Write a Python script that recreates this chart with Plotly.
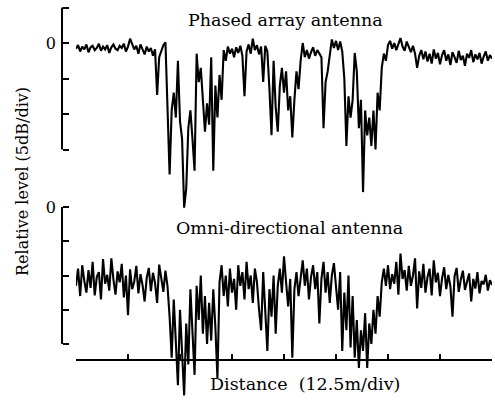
import plotly.graph_objects as go

# ---- data (relative level in dB, sampled every 0.5 m over 100 m) ----
step_m = 0.5

phased_db = (
    [-0.8, -0.3, -1.2, -0.5, -0.9, -0.2, -1.3, -0.6, -0.4, -1.0,
     -0.7, -0.1, -1.1, -0.5, -0.9, -0.3, -1.4, -0.6, -0.2, -0.8,
     -1.0, -0.4, -0.7, -0.1, -1.2, -0.5, 0.6, -0.3, -0.9, -0.4,
     -1.5, -0.2, -0.8, -1.6, -0.5, -1.2, -0.7]
    + [-1.8, -0.9, -7.3, -2.0, -1.0, -0.3, 0.1, -8.0, -18.5, -9.5,
       -7.0, -10.5, -2.5, -11.0, -13.5, -23.2, -20.5, -12.0, -9.5, -13.5,
       -18.0, -1.5, -5.5, -3.5, -8.0, -12.5, -8.5, -11.5, -2.0, -18.0,
       -6.0, -10.5, -4.5, -8.0, -1.0, -2.5, -0.5, -1.5, -0.8, -2.0,
       -0.6, -1.4, -0.4, -1.8, -7.5, -1.2, -0.2, -1.5, 0.6, -1.0,
       -0.3, -1.6, -0.5, -5.5, -0.4, -1.2, -6.5, -13.0, -2.5, -9.0,
       -12.5, -6.0, -3.5, -7.0, -4.0, -9.5, -7.5, -13.3, -8.0, -4.0,
       -6.5, -2.5, 0.0, -2.0, -1.0, -2.2, -1.3, -0.6, -1.8, -1.0,
       -1.5, -2.0, -12.0, -5.5, -4.0, -1.5, 0.5, -0.7, 0.3, -1.0,
       0.2, -1.2, -5.0, -14.5, -7.5, -10.5, -8.0, -1.4, -4.0, -12.0,
       -8.0, -21.0, -9.5, -13.0, -10.5, -14.5, -9.5, -15.0, -7.0, -9.5,
       -3.5, -1.5, -2.5, -0.3, 0.3, -0.8, 0.0, -1.0, -0.2, 0.7,
       -0.5, -1.1, 0.2, -0.6, -1.3, -0.4, -1.5, -3.5, -1.8, -1.0,
       -2.3]
    + [-1.2, -2.6, -1.5, -2.9, -0.9, -2.2, -1.4, -3.0, -1.7, -1.0,
       -2.5, -1.6, -3.1, -1.3, -2.0, -2.8, -1.1, -2.4, -1.8, -3.2,
       -1.5, -2.1, -1.0, -2.7, -1.6, -2.3, -1.4, -2.9, -1.9, -1.2,
       -2.5, -1.7, -2.2]
)

omni_db = (
    [-11.5, -9.0, -13.0, -8.5, -10.8, -12.5, -9.2, -11.8, -8.0, -12.9,
     -10.2, -9.5, -13.5, -7.6, -11.2, -9.9, -12.2, -7.5, -10.6, -12.8,
     -9.4, -11.0, -8.3, -13.2, -10.0, -15.8, -9.1, -12.0, -10.9, -8.6,
     -12.6, -9.8, -11.4, -13.8, -10.3, -8.9, -12.3, -9.6, -11.1, -14.0,
     -8.4, -10.7, -12.4, -9.3, -11.6]
    + [-16.0, -22.0, -13.5, -19.5, -26.0, -15.0, -21.5, -27.5, -17.0, -23.0,
       -12.0, -19.0, -24.5, -11.5, -16.5, -10.0, -18.5, -13.0, -20.0, -14.0,
       -19.5, -12.0, -17.5, -25.0, -11.0, -8.5, -13.0, -10.0, -14.5, -9.0,
       -12.5, -10.5, -15.0, -8.5, -11.5, -9.5, -13.5, -8.0, -12.0, -10.0,
       -14.0, -9.0, -11.0, -15.0, -18.0, -9.5, -14.5, -21.0, -12.0, -16.0,
       -10.0, -18.5, -11.5, -9.0, -12.5, -7.2, -11.0, -14.5, -10.5, -22.0,
       -12.0, -9.5, -13.0, -10.0, -7.8, -11.5, -9.0, -13.5, -10.2, -8.5,
       -12.0, -9.5, -17.0, -10.5, -8.0, -12.5, -9.5, -14.0, -10.0, -8.2,
       -12.0, -15.0, -9.5, -21.0, -12.5, -18.0, -10.0, -20.5, -13.0, -22.0,
       -16.5, -23.5, -18.0, -21.0, -15.5, -23.5, -17.0, -20.0, -15.0, -18.5,
       -13.0, -16.0, -11.0, -9.0, -11.5]
    + [-8.5, -12.0, -9.8, -11.2, -8.0, -12.8, -6.8, -10.5, -9.2, -12.2,
       -8.6, -11.5, -10.0, -7.5, -14.8, -9.4, -11.8, -8.3, -12.5, -10.2,
       -9.0, -12.9, -7.8, -11.0, -9.6, -13.0, -10.4, -8.8, -12.0, -9.9,
       -11.6, -16.0, -10.1, -8.9, -12.4, -10.6, -9.3, -12.1, -11.0, -9.7,
       -13.8, -10.5, -11.9, -9.5, -12.6, -10.8, -11.3, -9.9, -12.2, -10.7,
       -11.4]
)

phased_dist = [i * step_m for i in range(len(phased_db))]
omni_dist = [i * step_m for i in range(len(omni_db))]

x_ticks = [0, 12.5, 25, 37.5, 50, 62.5, 75, 87.5, 100]
top_ticks = [5, 0, -5, -10, -15]
top_labels = ["", "0", "", "", ""]
bot_ticks = [0, -5, -10, -15, -20]
bot_labels = ["0", "", "", "", ""]

title_top = "Phased array antenna"
title_bot = "Omni-directional antenna"
x_title = "Distance\u00a0\u00a0(12.5m/div)"
y_title = "Relative level (5dB/div)"

# ---- layout geometry ----
W, H = 495, 403
ML, MR = 62, 3
PW = W - ML - MR


def px(xp):
    return (xp - ML) / PW


def py(yp):
    return 1 - yp / H


FONT = "DejaVu Serif"

fig = go.Figure()
fig.add_trace(go.Scatter(x=phased_dist, y=phased_db, mode="lines",
                         line=dict(color="black", width=2.1),
                         xaxis="x", yaxis="y", showlegend=False))
fig.add_trace(go.Scatter(x=omni_dist, y=omni_db, mode="lines",
                         line=dict(color="black", width=2.1),
                         xaxis="x", yaxis="y2", showlegend=False))

# axis spines drawn over their labelled span only
fig.add_shape(type="line", xref="paper", yref="y", x0=0, x1=0,
              y0=top_ticks[0], y1=top_ticks[-1], line=dict(color="black", width=2))
fig.add_shape(type="line", xref="paper", yref="y2", x0=0, x1=0,
              y0=bot_ticks[0], y1=bot_ticks[-1], line=dict(color="black", width=2))

# top axis: 0 dB at py=43, 35.5 px per 5 dB
top_ppd = 7.1
top_range = [-(H - 43) / top_ppd, 43 / top_ppd]
# bottom axis: 0 dB at py=207, 34.25 px per 5 dB
bot_ppd = 6.85
bot_range = [-(H - 207) / bot_ppd, 207 / bot_ppd]

axfont = dict(family=FONT, size=16, color="black")

fig.update_layout(
    width=W, height=H,
    margin=dict(l=ML, r=MR, t=0, b=0),
    paper_bgcolor="white", plot_bgcolor="white",
    xaxis=dict(domain=[px(76), 1], range=[0, 100], anchor="free",
               position=py(360), showline=True, linecolor="black",
               linewidth=2, ticks="inside", ticklen=5, tickwidth=1.5,
               tickcolor="black", tickvals=x_ticks, showticklabels=False,
               showgrid=False, zeroline=False),
    yaxis=dict(domain=[0, 1], range=top_range, anchor="free", position=0,
               showline=False, ticks="inside", ticklen=6, tickwidth=1.5,
               tickcolor="black", tickvals=top_ticks, ticktext=top_labels,
               tickfont=axfont, ticklabelstandoff=6,
               showgrid=False, zeroline=False),
    yaxis2=dict(domain=[0, 1], range=bot_range, anchor="free", position=0,
                overlaying="y", showline=False, ticks="inside", ticklen=6,
                tickwidth=1.5, tickcolor="black", tickvals=bot_ticks,
                ticktext=bot_labels, tickfont=axfont, ticklabelstandoff=6,
                showgrid=False, zeroline=False),
)

tfont = dict(family=FONT, size=17.5, color="black")
fig.add_annotation(text=title_top, x=px(285), y=py(20), xref="paper",
                   yref="paper", showarrow=False, font=tfont,
                   xanchor="center", yanchor="middle")
fig.add_annotation(text=title_bot, x=px(289), y=py(228), xref="paper",
                   yref="paper", showarrow=False, font=tfont,
                   xanchor="center", yanchor="middle")
fig.add_annotation(text=x_title, x=px(305), y=py(384), xref="paper",
                   yref="paper", showarrow=False, font=tfont,
                   xanchor="center", yanchor="middle")
fig.add_annotation(text=y_title, x=px(22), y=py(182), xref="paper",
                   yref="paper", showarrow=False,
                   font=dict(family=FONT, size=16, color="black"),
                   textangle=-90, xanchor="center", yanchor="middle")

# the page's default 8px body margin would shift the figure; remove it
fig.write_html("out.html",
               config={"displayModeBar": False},
               post_script="document.body.style.margin='0px';"
                           "document.body.style.padding='0px';")
